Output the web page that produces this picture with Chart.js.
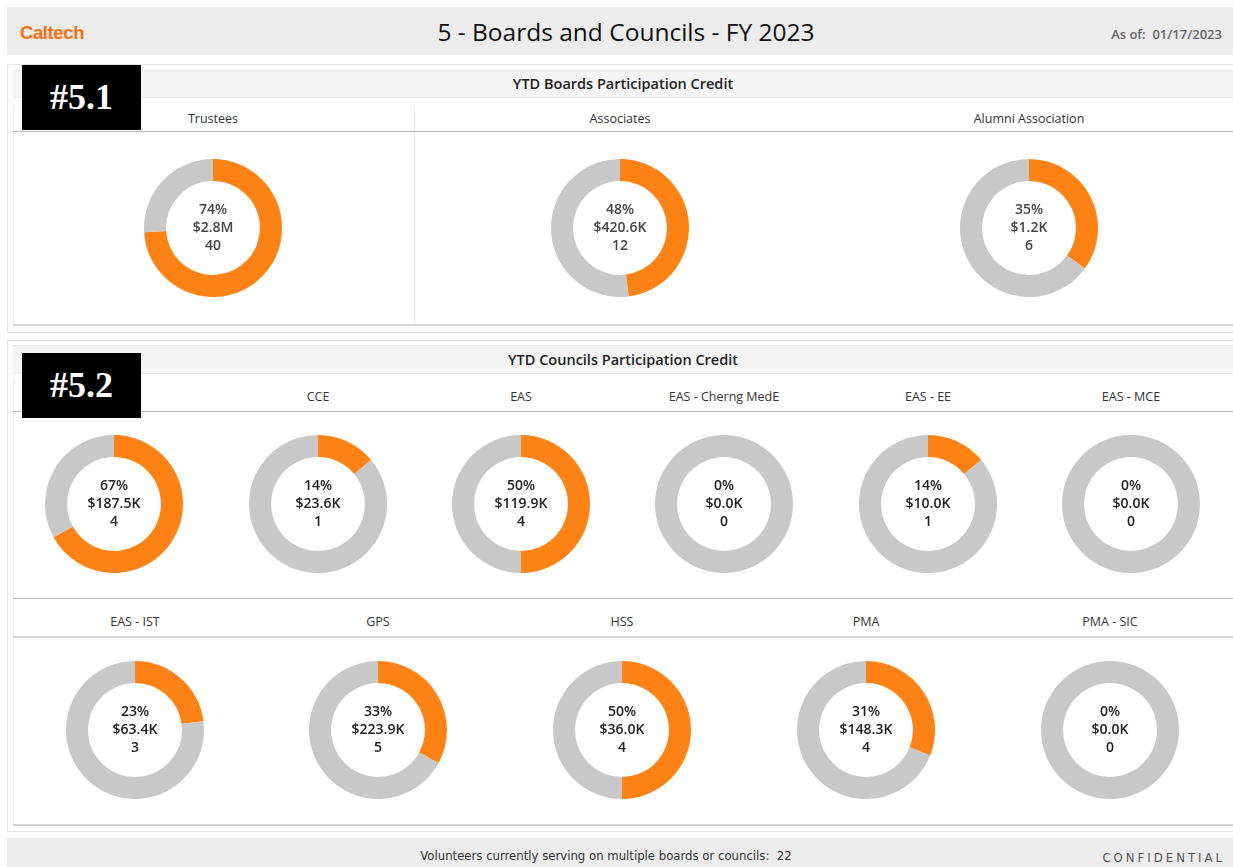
<!DOCTYPE html>
<html>
<head>
<meta charset="utf-8">
<script src="https://cdn.jsdelivr.net/npm/chart.js@4"></script>
<style>
  body { margin: 0; background: #fff; font-family: "Open Sans", "Noto Sans", sans-serif; }
  #page { position: relative; width: 1233px; height: 867px; overflow: hidden; }
  .abs { position: absolute; }
  .hdr { left: 7px; top: 7px; width: 1226px; height: 48px; background: #ececec; }
  .logo { left: 20px; top: 22px; color: #ff6c0c; font: bold 18.5px "Liberation Sans", Arial, sans-serif; letter-spacing: -0.4px; }
  .title { left: 0; width: 1252px; top: 15px; text-align: center; font-size: 24.5px; color: #111; }
  .asof { right: 11px; top: 25px; font-size: 13px; color: #666; font-weight: 600; }
  .panel { border: 1px solid #e4e4e4; left: 7px; width: 1228px; }
  .bar { left: 13px; width: 1220px; background: #f5f5f5; border-top: 1px solid #e6e6e6; border-bottom: 1px solid #e6e6e6; text-align: center; font-size: 14.5px; color: #222; font-weight: 600; }
  .hline { height: 0; border-top: 1px solid #b8b8b8; }
  .thick { border-top: 2px solid #d2d2d2; }
  .vline { width: 0; border-left: 1px solid #ebebeb; }
  .lab { width: 240px; text-align: center; font-size: 12.5px; color: #333; }
  .tag { background: #000; color: #fff; font: bold 36px "Liberation Serif", "DejaVu Serif", serif; text-align: center; width: 119px; height: 65px; line-height: 65px; z-index: 5; }
  .foot { left: 7px; top: 838px; width: 1226px; height: 29px; background: #ececec; }
  .foottxt { left: 0; width: 1212px; top: 848px; text-align: center; font: 13px "Liberation Sans Narrow", "DejaVu Sans Condensed", sans-serif; color: #333; }
  .conf { right: 8px; top: 850px; font: 13px "Liberation Sans Narrow", "DejaVu Sans Condensed", sans-serif; letter-spacing: 3px; color: #555; }
  canvas { position: absolute; }
</style>
</head>
<body>
<div id="page">
  <div class="abs hdr"></div>
  <div class="abs logo">Caltech</div>
  <div class="abs title">5 - Boards and Councils - FY 2023</div>
  <div class="abs asof">As of:&nbsp; 01/17/2023</div>

  <!-- section 5.1 -->
  <div class="abs panel" style="top:64px;height:267px;"></div>
  <div class="abs bar" style="top:70px;height:26px;line-height:26px;">YTD Boards Participation Credit</div>
  <div class="abs tag" style="left:22px;top:65px;">#5.1</div>
  <div class="abs vline" style="left:13px;top:105px;height:220px;"></div>
  <div class="abs vline" style="left:414px;top:105px;height:220px;"></div>
  <div class="abs hline" style="left:13px;top:131px;width:1220px;"></div>
  <div class="abs hline thick" style="left:13px;top:324px;width:1220px;"></div>
  <div id="boardLabels"></div>

  <!-- section 5.2 -->
  <div class="abs panel" style="top:340px;height:490px;"></div>
  <div class="abs bar" style="top:345px;height:27px;line-height:27px;">YTD Councils Participation Credit</div>
  <div class="abs tag" style="left:22px;top:353px;">#5.2</div>
  <div class="abs vline" style="left:13px;top:380px;height:445px;"></div>
  <div class="abs hline" style="left:13px;top:411px;width:1220px;"></div>
  <div class="abs hline" style="left:13px;top:598px;width:1220px;"></div>
  <div class="abs hline thick" style="left:13px;top:636px;width:1220px;"></div>
  <div class="abs hline thick" style="left:13px;top:824px;width:1220px;"></div>
  <div id="councilLabels"></div>

  <div class="abs foot"></div>
  <div class="abs foottxt">Volunteers currently serving on multiple boards or councils:&nbsp; 22</div>
  <div class="abs conf">CONFIDENTIAL</div>
  <div id="charts"></div>
</div>
<script>
// YTD boards
const boardNames = ['Trustees', 'Associates', 'Alumni Association'];
const boardPct = [74, 48, 35];
const boardDollars = ['$2.8M', '$420.6K', '$1.2K'];
const boardCounts = [40, 12, 6];

// YTD councils (first label is hidden behind the #5.2 tag)
const councilNames = ['', 'CCE', 'EAS', 'EAS - Cherng MedE', 'EAS - EE', 'EAS - MCE',
                      'EAS - IST', 'GPS', 'HSS', 'PMA', 'PMA - SIC'];
const councilPct = [67, 14, 50, 0, 14, 0, 23, 33, 50, 31, 0];
const councilDollars = ['$187.5K', '$23.6K', '$119.9K', '$0.0K', '$10.0K', '$0.0K',
                        '$63.4K', '$223.9K', '$36.0K', '$148.3K', '$0.0K'];
const councilCounts = [4, 1, 4, 0, 1, 0, 3, 5, 4, 4, 0];

const ORANGE = '#ff8214';
const GREY = '#c8c8c8';
const R = 69;

// centre text of each donut
const centerText = {
    id: 'centerText',
    afterDraw(chart, args, opts) {
        const arc = chart.getDatasetMeta(0).data[0];
        const ctx = chart.ctx;
        ctx.save();
        ctx.fillStyle = opts.color;
        ctx.font = opts.font;
        ctx.textAlign = 'center';
        ctx.textBaseline = 'middle';
        opts.lines.forEach((t, i) => {
            ctx.fillText(t, arc.x, arc.y + (i - 1) * 18);
        });
        ctx.restore();
    }
};

function makeDonut(cx, cy, pct, dollars, count, dark) {
    const c = document.createElement('canvas');
    c.width = R * 2;
    c.height = R * 2;
    c.style.left = (cx - R) + 'px';
    c.style.top = (cy - R) + 'px';
    c.style.width = (R * 2) + 'px';
    c.style.height = (R * 2) + 'px';
    document.getElementById('charts').appendChild(c);
    new Chart(c.getContext('2d'), {
        type: 'doughnut',
        data: {
            labels: ['Credit', 'Remaining'],
            datasets: [{
                data: [pct, 100 - pct],
                backgroundColor: [ORANGE, GREY],
                borderWidth: 0,
            }],
        },
        options: {
            responsive: false,
            animation: false,
            events: [],
            cutout: '68%',
            plugins: {
                legend: { display: false },
                tooltip: { enabled: false },
                centerText: {
                    lines: [pct + '%', dollars, String(count)],
                    font: '600 14px "Open Sans", "Noto Sans", sans-serif',
                    color: dark ? '#222' : '#444',
                },
            },
        },
        plugins: [centerText],
    });
}

function addLabel(parentId, text, cx, top) {
    const d = document.createElement('div');
    d.className = 'abs lab';
    d.style.left = (cx - 120) + 'px';
    d.style.top = top + 'px';
    d.textContent = text;
    document.getElementById(parentId).appendChild(d);
}

// boards row
const boardX = [213, 620, 1029];
boardNames.forEach((name, i) => {
    addLabel('boardLabels', name, boardX[i], 110);
    makeDonut(boardX[i], 228, boardPct[i], boardDollars[i], boardCounts[i], false);
});

// councils: 6 on the first row, 5 on the second
const row1X = [114, 318, 521, 724, 928, 1131];
const row2X = [135, 378, 622, 866, 1110];
councilNames.forEach((name, i) => {
    const first = i < 6;
    const cx = first ? row1X[i] : row2X[i - 6];
    addLabel('councilLabels', name, cx, first ? 388 : 613);
    makeDonut(cx, first ? 504 : 730, councilPct[i], councilDollars[i], councilCounts[i], true);
});
</script>
</body>
</html>
